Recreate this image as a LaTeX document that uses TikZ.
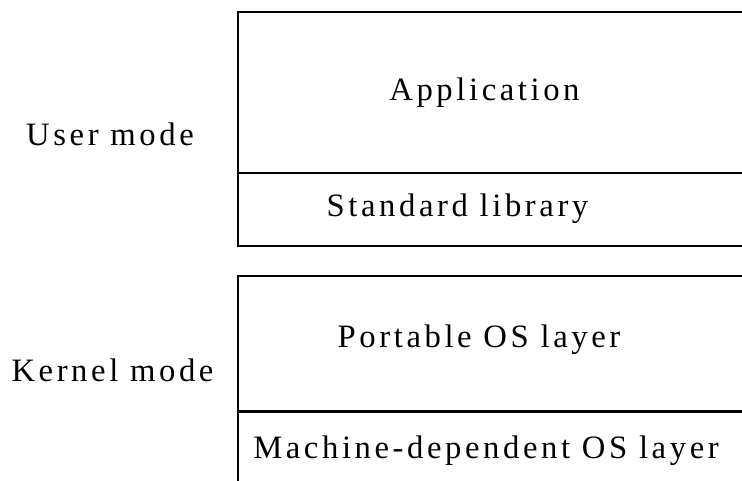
\documentclass[tikz,border=0pt]{standalone}
\usepackage{fontspec}
\setmainfont{Liberation Serif}
\newfontfamily\layerfont[LetterSpace=11]{Liberation Serif}
\usepackage{tikz}
\usetikzlibrary{positioning}

\begin{document}
\begin{tikzpicture}[
      x=0.75pt, y=-0.75pt,
      font=\layerfont\fontsize{24.5}{28}\selectfont,
      layer/.style={anchor=base, inner sep=0pt},
      mode/.style={anchor=base, inner sep=0pt},
      edge/.style={line width=2.2pt, line cap=rect},
    ]
    \useasboundingbox (0,0) rectangle (742,481);
    % user space stack
    \draw[edge] (760,12) -- (238,12) -- (238,246) -- (760,246);
    \draw[edge] (238,173) -- (760,173);
    \node[layer] (app) at (484.5,100.5) {Application};
    \node[layer] (stdlib) at (457.5,216.5) {Standard library};
    \node[mode] (user) at (110,146) {User mode};
    % kernel stack
    \draw[edge] (760,276) -- (238,276) -- (238,490);
    \draw[edge] (238,411.5) -- (760,411.5);
    \node[layer] (portable) at (479,347) {Portable OS layer};
    \node[layer] (machine) at (486,458) {Machine-dependent OS layer};
    \node[mode] (kernel) at (112.5,381) {Kernel mode};
  \end{tikzpicture}
\end{document}
